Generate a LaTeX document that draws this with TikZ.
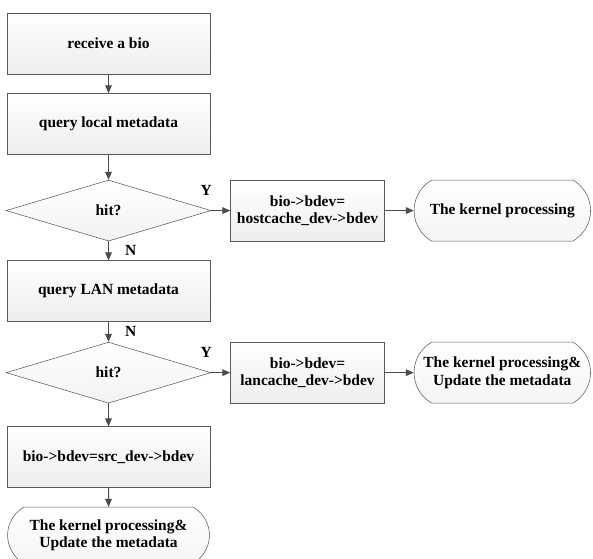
\documentclass[tikz,border=0pt]{standalone}
\usepackage{fontspec}
\setmainfont{Liberation Serif}
\usetikzlibrary{arrows.meta,positioning,shapes.geometric,shapes.misc}
\tikzset{
  proc/.style={rectangle, draw=gray!70!black, top color=white, bottom color=gray!14, minimum width=152.25pt, minimum height=45.75pt, align=center, font=\bfseries\fontsize{11.6}{13}\selectfont},
  small/.style={proc, minimum width=115.5pt},
  decide/.style={diamond, draw=gray!70!black, top color=white, bottom color=gray!10, minimum width=153.75pt, minimum height=45.75pt, inner sep=0pt, align=center, font=\bfseries\fontsize{11.6}{13}\selectfont},
  term/.style={rounded rectangle, rounded rectangle arc length=120, draw=gray!70!black, top color=white, bottom color=gray!8, minimum width=139pt, minimum height=45.75pt, align=center, font=\bfseries\fontsize{11.6}{13}\selectfont},
  lbl/.style={inner sep=0pt, font=\bfseries\fontsize{11.6}{13}\selectfont},
  arrow/.style={-{Triangle[length=6pt,width=5pt]}, draw=gray!60!black, line width=0.75pt}
}

\begin{document}
\begin{tikzpicture}
  \useasboundingbox (0,0) rectangle (444.75pt,-418.5pt);
  \node[proc] (rcv) at (81.375pt,-32.625pt) {receive a bio};
  \node[proc, below=14.25pt of rcv] (qlocal) {query local metadata};
  \node[decide, below=18.75pt of qlocal] (hit1) {hit?};
  \node[small, right=14.25pt of hit1] (host) {bio->bdev=\\hostcache\_dev->bdev};
  \node[term, right=21.75pt of host] (kern1) {The kernel processing};
  \node[proc, below=14.25pt of hit1] (qlan) {query LAN metadata};
  \node[decide, below=15pt of qlan] (hit2) {hit?};
  \node[small, right=14.25pt of hit2] (lan) {bio->bdev=\\lancache\_dev->bdev};
  \node[term, right=21.75pt of lan] (kern2) {The kernel processing\&\\Update the metadata};
  \node[proc, below=17.25pt of hit2] (src) {bio->bdev=src\_dev->bdev};
  \node[term, minimum width=158pt, minimum height=42pt, below=14.25pt of src] (kern3) {The kernel processing\&\\Update the metadata};
  % labels
  \node[lbl, above=11pt of hit1.east, xshift=-3.75pt] (y1) {Y};
  \node[lbl, above=11pt of hit2.east, xshift=-3.75pt] (y2) {Y};
  % flow
  \draw[arrow] (rcv) -- (qlocal);
  \draw[arrow] (qlocal) -- (hit1);
  \draw[arrow] (hit1) -- (host);
  \draw[arrow] (host) -- (kern1);
  \draw[arrow] (hit1) -- node[lbl, right=12pt] (n1) {N} (qlan);
  \draw[arrow] (qlan) -- node[lbl, right=12pt] (n2) {N} (hit2);
  \draw[arrow] (hit2) -- (lan);
  \draw[arrow] (lan) -- (kern2);
  \draw[arrow] (hit2) -- (src);
  \draw[arrow] (src) -- (kern3);
\end{tikzpicture}
\end{document}
